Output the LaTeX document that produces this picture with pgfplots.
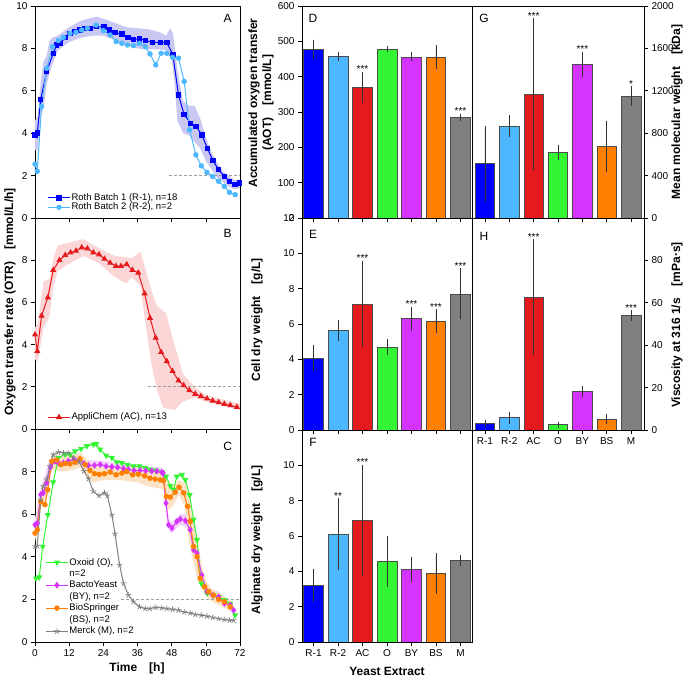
\documentclass[border=0pt]{standalone}
\usepackage{pgfplots}
\pgfplotsset{compat=1.18}
\usepackage{fontspec}
\setmainfont{Liberation Sans}

\definecolor{cRa}{RGB}{0,0,255}
\definecolor{cRb}{RGB}{77,184,255}
\definecolor{cAC}{RGB}{228,26,28}
\definecolor{cO}{RGB}{51,245,51}
\definecolor{cBY}{RGB}{214,51,255}
\definecolor{cBS}{RGB}{255,127,0}
\definecolor{cM}{RGB}{128,128,128}
\definecolor{bandRa}{RGB}{200,200,242}
\definecolor{bandAC}{RGB}{250,214,214}
\definecolor{bandBS}{RGB}{252,226,196}
\definecolor{bandBY}{RGB}{242,210,250}

\newcommand\lblfont{\fontsize{12}{14}\selectfont\bfseries}
\newcommand\tickfont{\fontsize{10}{12}\selectfont}

\tikzset{
  sig/.style={font=\fontsize{10}{10}\selectfont, anchor=south, inner sep=1pt},
  letter/.style={font=\fontsize{12}{14}\selectfont},
}

\pgfplotsset{
  panel/.style={scale only axis, tick align=outside, major tick length=4pt,
    tick style={black, line width=0.6pt}, axis line style={line width=0.8pt},
    ticklabel style={font=\tickfont}, /pgf/number format/assume math mode=true,
    /pgf/number format/1000 sep={},
    xtick pos=left, ytick pos=left},
  ts/.style={panel, width=205pt, xmin=0, xmax=72, ymin=0, ymax=10,
    xtick={0,12,...,72}, ytick={0,2,...,8},
    legend style={draw=none, fill=none, font=\fontsize{9.5}{11}\selectfont,
      row sep=-1pt, inner sep=0pt, nodes={inner sep=1pt}},
    legend cell align=left,
    legend image code/.code={\draw[mark repeat=2, mark phase=2, ##1]
      plot coordinates {(0pt,0pt)(11pt,0pt)(22pt,0pt)};}},
  tline/.style={line width=1pt, mark size=2.2pt, color=#1, mark options={fill=#1, draw=#1}},
  band/.style={fill=#1, draw=none, forget plot},
  thr/.style={gray!75, dash pattern=on 3pt off 2pt, line width=0.7pt, forget plot},
  barax/.style={panel, height=212pt, xmin=-0.47, xmax=6.47, xtick={0,...,6},
    xticklabels={}},
  bar/.style={ybar, bar shift=0pt, bar width=0.8, fill=#1, draw=black!70, line width=0.6pt,
    error bars/.cd, y dir=both, y explicit,
    error bar style={black!80, line width=0.6pt},
    error mark options={black!80, mark size=2.5pt, line width=0.6pt}},
}

\begin{document}
\begin{tikzpicture}
\useasboundingbox (0,0) rectangle (685pt,677pt);

% ---------------- A ----------------
\begin{axis}[ts, at={(35pt,459pt)}, height=212pt, xticklabels={}, ytick={0,2,...,10},
  legend style={at={(0.06,0.025)}, anchor=south west}]
\addplot[band=bandRa] coordinates {(0,4.6)(1,4.8)(2,6.4)(3,7.4)(4,7.6)(5,8.3)(6,8.5)(8,8.6)(12,9.0)(16,9.3)(20,9.45)(22,9.5)(24,9.4)(28,9.2)(32,9.0)(36,8.95)(40,8.9)(44,8.75)(46,8.6)(47.5,8.95)(48.5,8.7)(50,7.0)(52,5.5)(54,5.3)(56,5.3)(58,4.7)(60,3.8)(62,3.1)(64,2.6)(66,2.2)(68,2.0)(70,1.8)(72,1.8)
  (72,1.4)(70,1.35)(68,1.5)(66,1.7)(64,1.9)(62,2.3)(60,2.7)(58,3.3)(56,3.6)(54,3.9)(52,4.0)(50,4.6)(49,6.4)(48,7.6)(46,7.9)(44,7.95)(40,7.95)(36,8.0)(32,8.2)(28,8.4)(24,8.6)(20,8.6)(16,8.5)(12,8.3)(8,7.9)(6,7.2)(5,6.8)(4,6.2)(3,5.2)(2,4.8)(1,3.2)(0,3.2)} -- cycle;
\addplot[thr] coordinates {(46.9,2)(72,2)};
\addplot[tline=cRa, mark=square*] coordinates {(0,3.92)(0.8,4.0)(2,5.6)(4.1,6.9)(6.4,7.77)(7.6,8.16)(8.8,8.24)(10.6,8.5)(12.3,8.71)(14.1,8.79)(15.8,8.87)(17.6,8.95)(19.3,8.95)(21.7,9.03)(24.3,9.0)(26.1,8.87)(28.1,8.76)(30.5,8.67)(32.6,8.52)(34.6,8.43)(36.7,8.45)(38.9,8.37)(41.3,8.29)(44.0,8.27)(46.3,8.27)(48.4,7.72)(50.4,5.81)(52.4,4.87)(54.7,4.47)(56.6,4.32)(58.6,3.92)(60.6,3.27)(62.5,2.7)(64.5,2.28)(66.5,1.96)(68.3,1.73)(70.3,1.57)(71.9,1.65)};
\addlegendentry{Roth Batch 1 (R-1), n=18}
\addplot[tline=cRb, mark=*] coordinates {(0,2.54)(0.8,2.2)(2.3,5.26)(4.1,7.06)(6.2,8.08)(8.2,8.37)(10,8.52)(12.3,8.71)(14.4,8.76)(16.4,8.87)(18.4,8.95)(21.5,9.1)(24,8.84)(26.4,8.63)(28.5,8.32)(30.5,8.24)(32.5,8.16)(34.6,8.13)(36.7,8.24)(38.7,8.08)(40.4,7.74)(42.4,7.22)(44.3,7.77)(46.3,7.77)(48.3,7.58)(50.4,7.54)(52.4,6.44)(54.3,4.16)(56.5,2.98)(58.4,2.46)(60.4,2.15)(62.4,1.96)(64.5,1.73)(66.5,1.49)(68.3,1.21)(70.3,1.1)};
\addlegendentry{Roth Batch 2 (R-2), n=2}
\node[letter] at (rel axis cs:0.94,0.94) {A};
\end{axis}

% ---------------- B ----------------
\begin{axis}[ts, at={(35pt,248pt)}, height=211pt, xticklabels={},
  legend style={at={(0.06,0.03)}, anchor=south west}]
\addplot[band=bandAC] coordinates {(0,4.8)(1,5)(3,7.0)(5,7.1)(6.5,8.1)(8,8.7)(14,8.9)(17,9.0)(22,8.6)(28,8.2)(34,8.1)(37,8.4)(39,7.5)(41,6.5)(43,5.8)(46,5.5)(49,4.0)(52,2.6)(56,2.0)(60,1.6)(72,1.2)
  (72,0.9)(60,1.3)(56,1.5)(52,1.3)(49,0.9)(45,1.0)(43,1.8)(41,3.0)(39,4.8)(37,6.8)(34,7.2)(32,6.9)(28,7.2)(22,7.9)(17,8.2)(14,8.0)(8,7.5)(6.5,6.8)(5,5.3)(3,4.8)(1,3.2)(0,3.3)} -- cycle;
\addplot[thr] coordinates {(39.6,2)(72,2)};
\addplot[tline=cAC, mark=triangle*, mark size=2.6pt] coordinates {(0,4.47)(0.8,3.69)(2.3,5.36)(4.5,6.23)(6.4,7.53)(8.6,8.0)(10.6,8.24)(12.5,8.36)(14.4,8.44)(16.4,8.6)(18.4,8.55)(20.5,8.36)(22.5,8.27)(24.4,8.06)(26.4,7.87)(28.4,7.72)(30.2,7.72)(32.2,7.8)(34.2,7.53)(36.3,7.4)(38.5,6.42)(40.4,5.26)(42.4,4.32)(44.3,3.64)(46.3,3.21)(48.3,2.74)(50.4,2.29)(52.2,2.07)(54.2,1.83)(56.3,1.66)(58.3,1.55)(60.4,1.44)(62.4,1.34)(64.5,1.26)(66.5,1.18)(68.6,1.12)(70.9,1.04)};
\addlegendentry{AppliChem (AC), n=13}
\node[letter] at (rel axis cs:0.94,0.925) {B};
\end{axis}

% ---------------- C ----------------
\begin{axis}[ts, at={(35pt,35pt)}, height=213pt,
  legend style={at={(0.05,0.025)}, anchor=south west, row sep=1.2pt}]
\addplot[band=bandBY] coordinates {(0,5.8)(2,7.2)(5,8.5)(7,8.75)(14,8.8)(18,8.55)(24,8.5)(36,8.25)(44.5,8.2)(46,6.9)(47,5.8)(48,5.6)(51,6.0)(53,6.0)(54.5,5.6)(56,4.7)(58.6,3.5)(60.4,2.6)(64.5,2.35)(69.8,1.7)
  (69.8,1.3)(64.5,1.9)(60.4,2.1)(58.6,2.8)(56,3.7)(54.5,4.9)(53,5.4)(51,5.5)(48,5.1)(47,5.2)(46,6.2)(44.5,7.75)(36,7.85)(24,8.0)(18,8.05)(14,8.3)(7,8.2)(5,7.9)(2,6.6)(0,5.2)} -- cycle;
\addplot[band=bandBS] coordinates {(0,5.5)(2,7.0)(4,7.5)(6,8.8)(10,8.7)(14,8.8)(16,8.9)(20,8.3)(24,8.2)(30,8.25)(36,8.2)(40,8.05)(44,8.0)(45.5,7.95)(46.5,7.4)(48,7.3)(50.5,7.6)(52.5,7.5)(54,7.0)(55.5,6.0)(57,4.9)(58.5,3.6)(60,2.9)(62,2.5)(66,2.15)(69,1.9)
  (69,1.4)(66,1.65)(62,1.9)(60,2.2)(58.5,2.5)(57,3.0)(55.5,3.8)(54,4.8)(52.5,6.4)(50.5,6.9)(48,6.3)(46.5,6.2)(45.5,7.2)(44,7.2)(40,7.3)(36,7.5)(30,7.6)(24,7.6)(20,7.5)(16,8.2)(14,8.1)(10,8.0)(6,8.1)(4,6.8)(2,6.2)(0,4.7)} -- cycle;
\addplot[thr] coordinates {(30.2,2)(72,2)};
\addplot[tline=cO, mark=triangle*, mark size=2.6pt, mark options={rotate=180}] coordinates {(0.35,2.99)(1.5,3.04)(2.7,4.48)(4.5,5.97)(6.4,7.5)(8.2,8.65)(10.6,8.8)(12.3,8.8)(14.1,8.96)(16.2,9.07)(18.2,9.2)(20.5,9.28)(21.5,9.3)(22.9,9.04)(25,8.75)(27,8.65)(28.7,8.44)(30.5,8.41)(32.5,8.33)(34.6,8.25)(36.7,8.25)(38.7,8.17)(40.4,8.1)(42.4,8.05)(44.5,7.98)(46,7.77)(47.5,7.33)(48.7,7.15)(49.8,7.77)(51.6,7.85)(52.8,7.61)(54.3,6.9)(55.7,5.74)(56.9,4.8)(58.4,2.75)(60.4,2.28)(62.7,2.2)(64.5,2.12)(66.5,1.97)(68.6,1.8)(70.3,1.26)};
\addlegendentry{Oxoid (O),}
\addlegendimage{empty legend}
\addlegendentry{n=2}
\addplot[tline=cBY, mark=diamond*, mark size=2.6pt] coordinates {(0,5.5)(0.8,5.58)(2,6.92)(2.9,7.0)(4.1,7.47)(5.5,8.22)(7,8.49)(8.2,8.41)(10,8.41)(11.7,8.49)(13.7,8.57)(15.6,8.57)(17.2,8.38)(18.8,8.29)(20.9,8.29)(22.9,8.33)(25,8.25)(27,8.22)(29,8.2)(31.1,8.14)(32.8,8.1)(34.8,8.05)(36.9,8.05)(38.9,8.04)(41,8.02)(42.8,8.02)(44.5,7.97)(45,7.93)(46,6.52)(46.9,5.5)(48.1,5.35)(49.8,5.66)(51,5.77)(52.8,5.7)(54.5,5.27)(55.7,4.32)(56.9,4.17)(58.6,3.14)(60.4,2.36)(62.4,2.2)(64.5,2.12)(66.5,1.81)(68.6,1.73)(69.8,1.49)};
\addlegendentry{BactoYeast}
\addlegendimage{empty legend}
\addlegendentry{(BY), n=2}
\addplot[tline=cBS, mark=*] coordinates {(0,5.11)(0.8,5.27)(2,6.6)(3.5,6.45)(4.5,7.15)(5.9,8.49)(7.6,8.54)(9.1,8.33)(10.6,8.38)(12.3,8.36)(14.1,8.44)(15.8,8.6)(17.6,8.33)(19.3,8.06)(20.9,7.9)(22.6,7.87)(24.4,7.9)(26.4,7.98)(28.5,7.85)(30.5,7.93)(32.2,8.0)(34.3,7.85)(36.3,7.88)(38.5,7.8)(40.4,7.69)(42.2,7.65)(44,7.61)(45.1,7.58)(46.1,6.83)(47.5,6.8)(49.2,7.03)(50.6,7.27)(52.2,7.0)(53.6,6.37)(54.5,5.66)(55.7,4.48)(56.9,4.01)(58,2.99)(59.6,2.59)(61,2.36)(62.7,2.2)(64.5,2.0)(66.5,1.89)(68.6,1.65)};
\addlegendentry{BioSpringer}
\addlegendimage{empty legend}
\addlegendentry{(BS), n=2}
\addplot[tline=cM, mark=star, mark size=3pt, mark options={line width=0.7pt}] coordinates {(0,4.48)(0.8,4.51)(2,6.68)(2.9,7.31)(4.1,7.63)(5.3,8.25)(6.4,8.8)(8.2,8.91)(10,8.88)(11.7,8.88)(13.5,8.65)(15.6,8.44)(17.2,8.02)(18.8,7.66)(20.5,7.07)(22.5,6.87)(24.4,7.0)(25.4,6.87)(27,5.97)(28.1,5.08)(29.7,3.62)(31.1,2.75)(32.8,2.2)(34.6,1.89)(36.7,1.65)(38.7,1.57)(40.4,1.57)(42.4,1.62)(44.5,1.6)(46.3,1.57)(48.3,1.53)(50.4,1.49)(52.4,1.41)(54.5,1.36)(56.3,1.29)(58.4,1.26)(60.4,1.21)(62.4,1.15)(64.5,1.1)(66.5,1.05)(68.3,1.02)(69.8,1.02)};
\addlegendentry{Merck (M), n=2}
\node[letter] at (rel axis cs:0.94,0.92) {C};
\end{axis}

% ---------------- D ----------------
\begin{axis}[barax, at={(302pt,459pt)}, width=170pt, ymin=0, ymax=600, ytick={0,100,...,600}]
\addplot[bar=cRa] coordinates {(0,478) +- (0,20)};
\addplot[bar=cRb] coordinates {(1,457) +- (0,5)};
\addplot[bar=cAC] coordinates {(2,369) +- (0,36)};
\addplot[bar=cO]  coordinates {(3,478) +- (0,2)};
\addplot[bar=cBY] coordinates {(4,456) +- (0,6)};
\addplot[bar=cBS] coordinates {(5,456) +- (0,27)};
\addplot[bar=cM]  coordinates {(6,285) +- (0,3)};
\node[sig] at (axis cs:2,407) {***};
\node[sig] at (axis cs:6,290) {***};
\node[letter] at (rel axis cs:0.065,0.94) {D};
\end{axis}

% ---------------- E ----------------
\begin{axis}[barax, at={(302pt,247pt)}, width=170pt, ymin=0, ymax=12, ytick={0,2,...,12}]
\addplot[bar=cRa] coordinates {(0,4.06) +- (0,0.6)};
\addplot[bar=cRb] coordinates {(1,5.63) +- (0,0.43)};
\addplot[bar=cAC] coordinates {(2,7.13) +- (0,2.3)};
\addplot[bar=cO]  coordinates {(3,4.69) +- (0,0.33)};
\addplot[bar=cBY] coordinates {(4,6.3) +- (0,0.54)};
\addplot[bar=cBS] coordinates {(5,6.16) +- (0,0.52)};
\addplot[bar=cM]  coordinates {(6,7.7) +- (0,1.3)};
\node[sig] at (axis cs:2,9.45) {***};
\node[sig] at (axis cs:4,6.86) {***};
\node[sig] at (axis cs:5,6.7) {***};
\node[sig] at (axis cs:6,9.02) {***};
\node[letter] at (rel axis cs:0.065,0.925) {E};
\end{axis}

% ---------------- F ----------------
\begin{axis}[barax, at={(302pt,35pt)}, width=170pt, ymin=0, ymax=12, ytick={0,2,...,10},
  xticklabels={R-1,R-2,AC,O,BY,BS,M}]
\addplot[bar=cRa] coordinates {(0,3.2) +- (0,0.8)};
\addplot[bar=cRb] coordinates {(1,6.1) +- (0,1.9)};
\addplot[bar=cAC] coordinates {(2,6.9) +- (0,3.0)};
\addplot[bar=cO]  coordinates {(3,4.55) +- (0,1.3)};
\addplot[bar=cBY] coordinates {(4,4.12) +- (0,0.56)};
\addplot[bar=cBS] coordinates {(5,3.88) +- (0,1.0)};
\addplot[bar=cM]  coordinates {(6,4.62) +- (0,0.15)};
\node[sig] at (axis cs:1,8.02) {**};
\node[sig] at (axis cs:2,9.92) {***};
\node[letter] at (rel axis cs:0.065,0.94) {F};
\end{axis}

% ---------------- G ----------------
\begin{axis}[barax, at={(472pt,459pt)}, width=172pt, xmin=-0.53, xmax=6.53,
  ymin=0, ymax=2000, ytick={0,400,...,2000}, ytick pos=right, yticklabel pos=right]
\addplot[bar=cRa] coordinates {(0,512) +- (0,333)};
\addplot[bar=cRb] coordinates {(1,865) +- (0,80)};
\addplot[bar=cAC] coordinates {(2,1168) +- (0,695)};
\addplot[bar=cO]  coordinates {(3,618) +- (0,50)};
\addplot[bar=cBY] coordinates {(4,1450) +- (0,96)};
\addplot[bar=cBS] coordinates {(5,675) +- (0,220)};
\addplot[bar=cM]  coordinates {(6,1150) +- (0,70)};
\node[sig] at (axis cs:2,1865) {***};
\node[sig] at (axis cs:4,1548) {***};
\node[sig] at (axis cs:6,1222) {*};
\node[letter] at (rel axis cs:0.07,0.94) {G};
\end{axis}

% ---------------- H ----------------
\begin{axis}[barax, at={(472pt,247pt)}, width=172pt, xmin=-0.53, xmax=6.53,
  ymin=0, ymax=100, ytick={0,20,...,80}, ytick pos=right, yticklabel pos=right,
  xticklabels={R-1,R-2,AC,O,BY,BS,M}]
\addplot[bar=cRa] coordinates {(0,3.1) +- (0,0.4)};
\addplot[bar=cRb] coordinates {(1,5.8) +- (0,1.6)};
\addplot[bar=cAC] coordinates {(2,62.7) +- (0,26)};
\addplot[bar=cO]  coordinates {(3,2.5) +- (0,0.3)};
\addplot[bar=cBY] coordinates {(4,18.1) +- (0,1.3)};
\addplot[bar=cBS] coordinates {(5,5.0) +- (0,1.2)};
\addplot[bar=cM]  coordinates {(6,53.9) +- (0,1.3)};
\node[sig] at (axis cs:2,88.9) {***};
\node[sig] at (axis cs:6,55.3) {***};
\node[letter] at (rel axis cs:0.07,0.915) {H};
\end{axis}

% ---------------- axis titles ----------------
\node[rotate=90, font=\lblfont] at (10pt,375pt) {Oxygen transfer rate (OTR)\quad[mmol/L/h]};
\node[rotate=90, font=\lblfont, align=center] at (261pt,574pt) {Accumulated oxygen transfer\\(AOT)\quad[mmol/L]};
\node[rotate=90, font=\lblfont] at (257pt,357pt) {Cell dry weight\quad[g/L]};
\node[rotate=90, font=\lblfont] at (257pt,137pt) {Alginate dry weight\quad[g/L]};
\node[rotate=90, font=\lblfont] at (677pt,565pt) {Mean molecular weight\quad[kDa]};
\node[rotate=90, font=\lblfont] at (677pt,352pt) {Viscosity at 316 1/s\quad[mPa·s]};
\node[font=\lblfont] at (137pt,9pt) {Time\quad[h]};
\node[font=\lblfont] at (387pt,6pt) {Yeast Extract};
\end{tikzpicture}
\end{document}
